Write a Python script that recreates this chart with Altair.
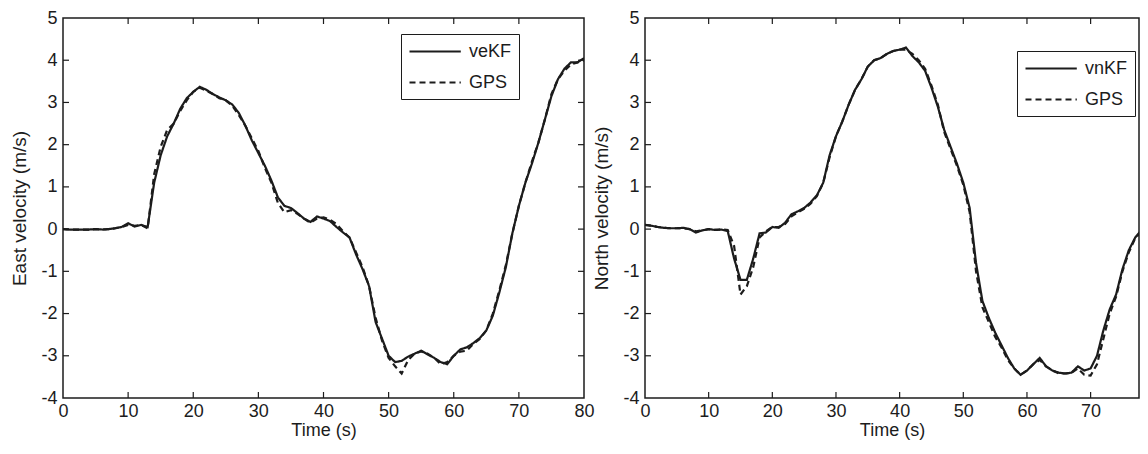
import altair as alt
import pandas as pd

# ---------------- data ----------------
time_s = list(range(0, 81))

ve_kf = [0.0, -0.01, -0.01, -0.01, -0.01, 0.0, -0.01, 0.0, 0.02, 0.05,
         0.14, 0.06, 0.1, 0.05, 1.1, 1.75, 2.2, 2.5, 2.85, 3.1,
         3.25, 3.37, 3.3, 3.2, 3.12, 3.05, 2.95, 2.75, 2.45, 2.1,
         1.8, 1.5, 1.15, 0.75, 0.55, 0.5, 0.38, 0.25, 0.17, 0.3,
         0.25, 0.19, 0.05, -0.08, -0.2, -0.6, -0.95, -1.35, -2.2, -2.6,
         -3.0, -3.15, -3.12, -3.02, -2.95, -2.88, -2.97, -3.05, -3.15, -3.2,
         -3.0, -2.85, -2.8, -2.7, -2.58, -2.4, -2.05, -1.5, -0.9, -0.1,
         0.55, 1.1, 1.55, 2.05, 2.6, 3.15, 3.55, 3.8, 3.95, 3.95, 4.05]

ve_gps = [0.0, -0.01, -0.01, -0.01, -0.01, 0.0, -0.01, 0.0, 0.02, 0.05,
          0.1, 0.08, 0.1, 0.02, 1.3, 1.95, 2.35, 2.5, 2.8, 3.05,
          3.25, 3.35, 3.28, 3.2, 3.1, 3.05, 2.92, 2.7, 2.45, 2.15,
          1.85, 1.45, 1.1, 0.62, 0.4, 0.45, 0.36, 0.25, 0.15, 0.25,
          0.28, 0.22, 0.12, -0.05, -0.2, -0.55, -0.9, -1.35, -2.1, -2.65,
          -3.05, -3.25, -3.42, -3.1, -2.95, -2.9, -2.95, -3.05, -3.2, -3.15,
          -3.0, -2.9, -2.88, -2.72, -2.6, -2.4, -2.0, -1.45, -0.85, -0.1,
          0.55, 1.1, 1.6, 2.05, 2.6, 3.2, 3.55, 3.75, 3.9, 3.95, 4.0]

vn_kf = [0.1, 0.08, 0.05, 0.03, 0.02, 0.02, 0.03, 0.0, -0.08, -0.03,
         0.0, -0.02, -0.01, -0.05, -0.7, -1.2, -1.2, -0.7, -0.1, -0.08,
         0.05, 0.03, 0.15, 0.35, 0.42, 0.5, 0.63, 0.8, 1.1, 1.75,
         2.2, 2.55, 2.95, 3.3, 3.55, 3.85, 4.0, 4.05, 4.15, 4.22,
         4.25, 4.3, 4.1, 3.95, 3.75, 3.35, 2.9, 2.35, 1.95, 1.55,
         1.1, 0.5, -0.8, -1.7, -2.1, -2.45, -2.75, -3.05, -3.3, -3.45,
         -3.35, -3.2, -3.05, -3.25, -3.35, -3.4, -3.42, -3.4, -3.25, -3.35,
         -3.3, -3.0, -2.4, -1.9, -1.55, -0.95, -0.5, -0.2, -0.02, 0.05, 0.1]

vn_gps = [0.1, 0.08, 0.05, 0.03, 0.02, 0.02, 0.02, 0.0, -0.05, -0.03,
          0.0, -0.02, -0.01, -0.02, -0.4, -1.55, -1.35, -0.9, -0.2, -0.05,
          0.05, 0.05, 0.12, 0.3, 0.4, 0.48, 0.6, 0.78, 1.1, 1.7,
          2.2, 2.55, 2.95, 3.3, 3.55, 3.85, 4.0, 4.05, 4.15, 4.22,
          4.25, 4.25, 4.15, 4.0, 3.8, 3.4, 2.95, 2.3, 1.9, 1.5,
          1.05, 0.4, -1.0, -1.85, -2.2, -2.55, -2.8, -3.1, -3.3, -3.45,
          -3.35, -3.2, -3.1, -3.25, -3.35, -3.42, -3.42, -3.4, -3.3, -3.45,
          -3.47, -3.2, -2.6, -2.0, -1.6, -1.0, -0.55, -0.22, -0.05, 0.05, 0.1]

x_labels_left = [0, 10, 20, 30, 40, 50, 60, 70, 80]
x_labels_right = [0, 10, 20, 30, 40, 50, 60, 70]
x_ticks = [10, 20, 30, 40, 50, 60, 70]
y_labels = [-4, -3, -2, -1, 0, 1, 2, 3, 4, 5]
y_ticks = [-3, -2, -1, 0, 1, 2, 3, 4]

# ---------------- style ----------------
FONT = "Liberation Sans"
INK = "#1c1c1c"
H = 380
LEG_PATH = "M-1,0L4.7,0"


def panel(kf, gps, kf_name, ytitle, width, xmax, xvals, leg_x, leg_y, right_ticks):
    df = pd.DataFrame({
        "t": time_s + time_s,
        "v": kf + gps,
        "series": [kf_name] * len(kf) + ["GPS"] * len(gps),
    })
    xs = alt.Scale(domain=[0, xmax], nice=False, zero=False)
    ys = alt.Scale(domain=[-4, 5], nice=False, zero=False)
    x_axis = alt.Axis(values=xvals, title="Time (s)", ticks=False, domain=False,
                      grid=False, labelPadding=4, titlePadding=1, labelFlush=False)
    y_axis = alt.Axis(values=y_labels, title=ytitle, ticks=False, domain=False,
                      grid=False, labelPadding=6, titlePadding=11,
                      labelExpr="'' + datum.value", titleFontSize=19)

    lines = alt.Chart(df).mark_line(clip=True, strokeWidth=2.2, color=INK).encode(
        x=alt.X("t:Q", scale=xs, axis=x_axis),
        y=alt.Y("v:Q", scale=ys, axis=y_axis),
        strokeDash=alt.StrokeDash(
            "series:N",
            scale=alt.Scale(domain=[kf_name, "GPS"], range=[[1, 0], [6, 4]]),
            legend=alt.Legend(title=None, orient="none", legendX=leg_x, legendY=leg_y,
                              symbolType=LEG_PATH, symbolSize=324, symbolStrokeWidth=2.2,
                              symbolStrokeColor=INK, strokeColor=INK, fillColor="white",
                              padding=7, rowPadding=11, labelOffset=40,
                              labelFont=FONT, labelFontSize=18, labelColor=INK),
        ),
    )

    xt = pd.DataFrame({"t": x_ticks})
    yt = pd.DataFrame({"v": y_ticks})
    tick_style = dict(color=INK, strokeWidth=1.2)
    layers = [lines]
    layers.append(alt.Chart(xt).mark_rule(**tick_style).encode(
        x=alt.X("t:Q", scale=xs, axis=x_axis), y=alt.value(H), y2=alt.value(H - 6)))
    layers.append(alt.Chart(xt).mark_rule(**tick_style).encode(
        x=alt.X("t:Q", scale=xs, axis=x_axis), y=alt.value(0), y2=alt.value(6)))
    layers.append(alt.Chart(yt).mark_rule(**tick_style).encode(
        y=alt.Y("v:Q", scale=ys, axis=y_axis), x=alt.value(0), x2=alt.value(6)))
    if right_ticks:
        layers.append(alt.Chart(yt).mark_rule(**tick_style).encode(
            y=alt.Y("v:Q", scale=ys, axis=y_axis), x=alt.value(width - 6), x2=alt.value(width)))

    return alt.layer(*layers).properties(width=width, height=H)


east = panel(ve_kf, ve_gps, "veKF", "East velocity (m/s)", 521, 80, x_labels_left, 338, 16, True)
north = panel(vn_kf, vn_gps, "vnKF", "North velocity (m/s)", 494, 77.6, x_labels_right, 372, 33, False)

chart = alt.hconcat(east, north, spacing=61, bounds="flush").resolve_scale(
    strokeDash="independent"
).resolve_legend(
    strokeDash="independent"
).properties(
    padding={"left": 2, "top": 0, "right": 0, "bottom": 0},
    background="white",
).configure_view(
    stroke=INK, strokeWidth=1.5
).configure_axis(
    labelFont=FONT, labelFontSize=18, labelColor=INK,
    titleFont=FONT, titleFontSize=18, titleFontWeight="normal", titleColor=INK,
)

chart.save("out.html", embed_options={"renderer": "svg", "actions": False})
